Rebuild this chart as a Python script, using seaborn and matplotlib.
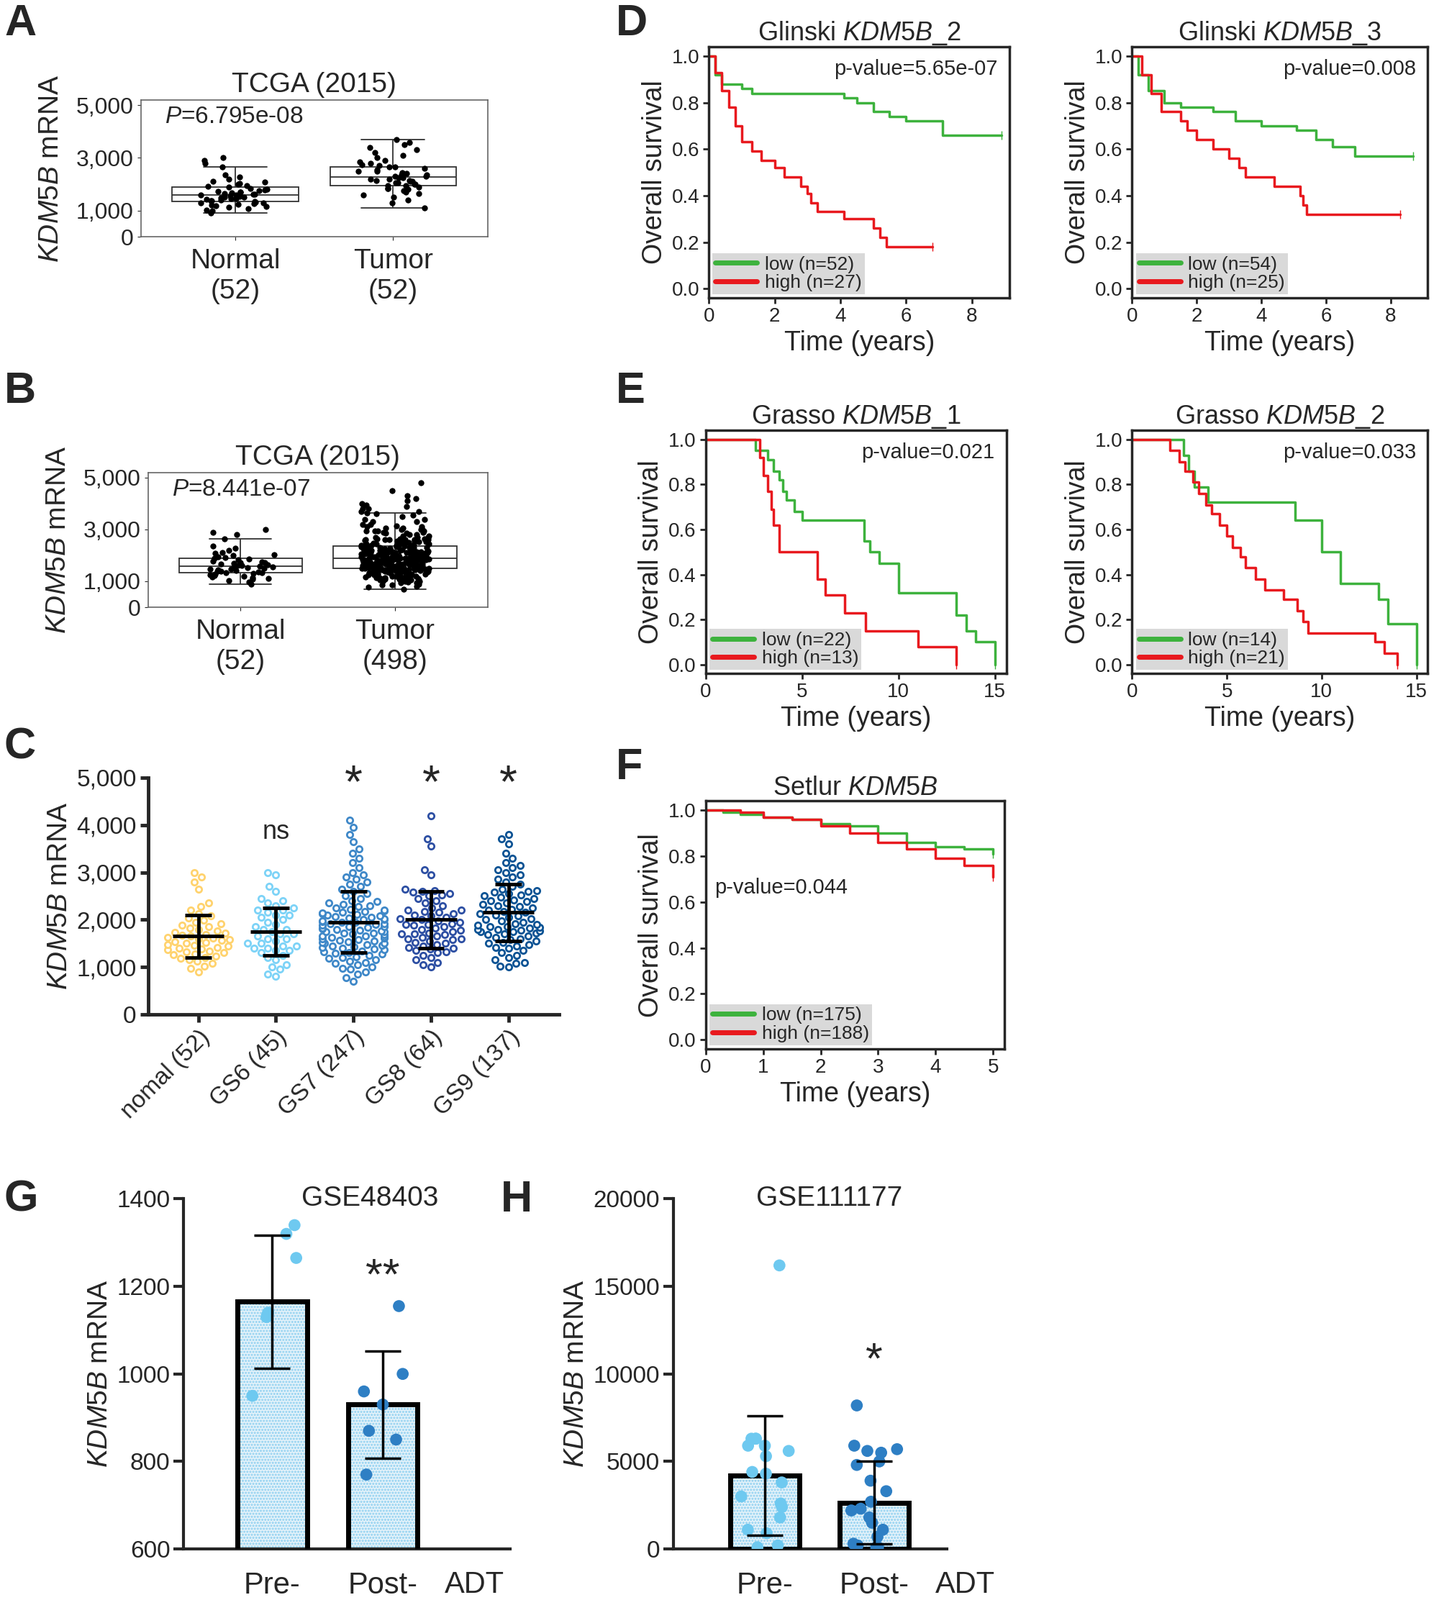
import numpy as np
import pandas as pd
import matplotlib
matplotlib.use('Agg')
import matplotlib.pyplot as plt
from matplotlib.lines import Line2D
from matplotlib.patches import Rectangle
import seaborn as sns

sns.set_style('ticks')
plt.rcParams['font.family'] = ['Liberation Sans', 'DejaVu Sans']
plt.rcParams['mathtext.fontset'] = 'custom'
plt.rcParams['mathtext.it'] = 'Liberation Sans:italic'
plt.rcParams['mathtext.rm'] = 'Liberation Sans'
plt.rcParams['hatch.linewidth'] = 1.5

# ---- data ----
normal = [900,980,1020,1080,1120,1150,1180,1200,1230,1260,1280,1300,1320,1340,1360,1380,1400,1420,1440,1460,
          1480,1500,1520,1540,1560,1580,1600,1610,1630,1650,1670,1690,1710,1730,1760,1790,1820,1850,1880,1910,
          1950,1990,2030,2080,2120,2200,2280,2350,2650,2800,2900,3000]
tumor_a = [1100,1300,1400,1500,1600,1650,1700,1750,1800,1850,1900,1950,2000,2000,2050,2100,2100,2150,2200,2200,
           2250,2300,2300,2350,2400,2400,2450,2500,2500,2550,2600,2650,2700,2750,2800,2850,2900,3000,3100,3200,
           3300,3400,3500,3600,3700,1950,2150,2250,2350,2050,1850,2650]
gs6 = [800,850,950,1000,1050,1150,1200,1250,1300,1350,1350,1400,1400,1450,1450,1500,1500,1550,1600,1600,1650,
       1700,1700,1750,1800,1800,1850,1900,1950,2000,2050,2100,2100,2150,2200,2200,2250,2300,2350,2400,2450,2600,
       2700,2950,3000]
gs7 = [700,780,850,900,950,980,1000,1050,1080,1100,1120,1150,1180,1200,1220,1250,1270,1290,1300,1320,1340,1360,
       1380,1400,1410,1430,1450,1460,1480,1500,1510,1520,1540,1550,1560,1580,1600,1610,1620,1640,1650,1660,1680,
       1700,1710,1720,1740,1750,1760,1780,1800,1810,1820,1840,1850,1860,1880,1900,1910,1920,1940,1950,1960,1980,
       2000,2010,2020,2040,2050,2060,2080,2100,2110,2120,2140,2150,2170,2190,2200,2220,2250,2280,2300,2320,2350,
       2380,2400,2450,2500,2550,2600,2650,2700,2750,2800,2850,2900,2950,3000,3100,3200,3300,3400,3500,3650,3800,
       3950,4100]
gs8 = [1000,1050,1100,1150,1200,1250,1300,1320,1350,1380,1400,1420,1450,1480,1500,1520,1550,1580,1600,1620,1650,
       1680,1700,1720,1750,1780,1800,1820,1850,1880,1900,1920,1950,1980,2000,2020,2050,2080,2100,2120,2150,2180,
       2200,2250,2300,2350,2400,2450,2500,2520,2550,2580,2600,2620,2650,2950,3050,3550,3700,4200,1700,1900,2200,1600]
gs9 = [1000,1020,1080,1100,1150,1200,1250,1300,1350,1400,1420,1450,1480,1500,1520,1550,1580,1600,1620,1650,1680,
       1700,1720,1740,1750,1760,1780,1800,1800,1820,1840,1850,1860,1880,1900,1920,1950,1980,2000,2020,2050,2080,
       2100,2120,2150,2180,2200,2220,2250,2280,2300,2320,2350,2380,2400,2420,2450,2480,2500,2520,2550,2580,2600,
       2620,2650,2700,2750,2800,2850,2900,2950,3000,3050,3100,3150,3200,3300,3400,3600,3700,3800]
tumor_b_extra = [4300,4500,4800,3900,4000]
c_labels = ['nomal (52)', 'GS6 (45)', 'GS7 (247)', 'GS8 (64)', 'GS9 (137)']
c_mean = [1650, 1750, 1950, 2000, 2150]
c_sd = [450, 500, 650, 600, 600]
c_colors = ['#FFD36E', '#7DD3F7', '#3F88C8', '#2D4FA3', '#0B5394']
c_marks = ['', 'ns', '*', '*', '*']

# survival curves (time in years, survival fraction)
d1_low_t = [0,0.2,0.4,1.0,1.3,4.1,4.5,5.0,5.5,6.0,7.1,8.9]
d1_low_s = [1,0.92,0.88,0.86,0.84,0.82,0.80,0.76,0.74,0.72,0.66,0.66]
d1_high_t = [0,0.2,0.4,0.6,0.8,1.0,1.3,1.6,2.0,2.3,2.8,3.0,3.1,3.3,4.1,5.0,5.2,5.4,6.8]
d1_high_s = [1,0.93,0.85,0.78,0.70,0.63,0.59,0.55,0.52,0.48,0.44,0.41,0.37,0.33,0.30,0.26,0.22,0.18,0.18]
d2_low_t = [0,0.2,0.5,1.0,1.5,2.5,3.2,4.0,5.1,5.7,6.2,6.9,8.7]
d2_low_s = [1,0.92,0.85,0.80,0.78,0.76,0.72,0.70,0.68,0.64,0.61,0.57,0.57]
d2_high_t = [0,0.3,0.6,0.9,1.5,1.7,2.0,2.5,3.0,3.3,3.5,4.4,5.2,5.3,5.4,8.3]
d2_high_s = [1,0.92,0.84,0.76,0.72,0.68,0.64,0.60,0.56,0.52,0.48,0.44,0.40,0.36,0.32,0.32]
e1_low_t = [0,2.6,3.2,3.5,3.8,4.0,4.2,4.6,5.0,8.2,8.5,9.0,10.0,13.0,13.5,14.0,15.0]
e1_low_s = [1,0.95,0.91,0.86,0.82,0.77,0.73,0.68,0.64,0.55,0.50,0.45,0.32,0.22,0.15,0.10,0.0]
e1_high_t = [0,2.8,3.0,3.2,3.4,3.5,3.8,5.8,6.2,7.2,8.3,11.0,13.0]
e1_high_s = [1,0.92,0.84,0.77,0.69,0.62,0.50,0.38,0.31,0.23,0.15,0.08,0.0]
e2_low_t = [0,2.7,3.0,3.3,4.0,8.6,10.0,11.0,13.0,13.5,15.0]
e2_low_s = [1,0.93,0.86,0.79,0.72,0.64,0.50,0.36,0.29,0.18,0.0]
e2_high_t = [0,2.0,2.5,2.8,3.2,3.5,3.9,4.2,4.6,5.0,5.3,5.7,6.0,6.5,7.0,8.0,8.7,9.0,9.3,12.8,13.3,14.0]
e2_high_s = [1,0.95,0.90,0.86,0.81,0.76,0.71,0.67,0.62,0.57,0.52,0.48,0.43,0.38,0.33,0.29,0.24,0.19,0.14,0.10,0.05,0.0]
f_low_t = [0,0.3,0.6,1.0,1.5,2.0,2.5,3.0,3.5,4.0,4.5,5.0]
f_low_s = [1,0.99,0.98,0.97,0.96,0.94,0.93,0.90,0.86,0.84,0.83,0.81]
f_high_t = [0,0.3,0.6,1.0,1.5,2.0,2.5,3.0,3.5,4.0,4.5,5.0]
f_high_s = [1,1.0,0.99,0.97,0.96,0.93,0.90,0.86,0.83,0.79,0.76,0.71]

g_pre = [1340,1320,1265,1140,1130,1135,950]
g_post = [1155,1000,960,930,870,850,770]
g_mean = [1165, 930]
g_sd = [152, 122]
h_pre = [16200,6300,6300,6300,5900,5900,5600,5300,4400,4300,3800,3000,2600,2400,1800,1100,900,200,100]
h_post = [8200,5900,5700,5600,5500,5000,4800,3900,3300,2700,2300,2200,1800,1500,1100,700,300,200,100,100]
h_mean = [4200, 2650]
h_sd = [3400, 2350]

fig = plt.figure(figsize=(20, 22.24), dpi=100)
ylab = r'$\it{KDM5B}$ mRNA'


def box_panel(rect, groups, labels, pval):
    ax = fig.add_axes(rect)
    df = pd.DataFrame({'g': sum([[l] * len(v) for l, v in zip(labels, groups)], []),
                       'v': sum(groups, [])})
    sns.boxplot(data=df, x='g', y='v', ax=ax, width=0.8, showfliers=False, color='white',
                linecolor='#333333', linewidth=1.3)
    sns.stripplot(data=df, x='g', y='v', ax=ax, color='black', size=6, jitter=0.22)
    ax.set_xlim(-0.6, 1.6)
    ax.set_ylim(0, 5200)
    ax.set_yticks([0, 1000, 3000, 5000])
    ax.set_yticklabels(['0', '1,000', '3,000', '5,000'], fontsize=23)
    ax.set_xticklabels(labels, fontsize=28)
    ax.tick_params(axis='x', pad=8)
    for s in ax.spines.values():
        s.set_color('#666666')
        s.set_linewidth(1.2)
    ax.set_xlabel('')
    ax.set_ylabel(ylab, fontsize=28, labelpad=12)
    ax.set_title('TCGA (2015)', fontsize=28, pad=8)
    ax.text(0.07, 0.83, r'$\it{P}$=' + pval, transform=ax.transAxes, fontsize=24)
    return ax


box_panel([0.0978, 0.852, 0.241, 0.0855], [normal, tumor_a], ['Normal\n(52)', 'Tumor\n(52)'], '6.795e-08')
box_panel([0.1028, 0.6205, 0.236, 0.0842], [normal, gs6 + gs7 + gs8 + gs9 + tumor_b_extra],
          ['Normal\n(52)', 'Tumor\n(498)'], '8.441e-07')

# ---- C ----
ax = fig.add_axes([0.1028, 0.366, 0.2856, 0.148])
groups_c = [normal, gs6, gs7, gs8, gs9]
dfc = pd.DataFrame({'g': sum([[l] * len(v) for l, v in zip(c_labels, groups_c)], []),
                    'v': sum(groups_c, [])})
sns.swarmplot(data=dfc, x='g', y='v', hue='g', palette=c_colors, ax=ax, size=6,
              marker='o', linewidth=2, legend=False)
for coll, col in zip(ax.collections, c_colors):
    coll.set_facecolor('white')
    coll.set_edgecolor(col)
xs = np.arange(5)
ax.vlines(xs, np.array(c_mean) - c_sd, np.array(c_mean) + c_sd, color='black', lw=3.5, zorder=5)
ax.hlines(c_mean, xs - 0.33, xs + 0.33, color='black', lw=3.5, zorder=5)
ax.hlines(np.array(c_mean) - c_sd, xs - 0.17, xs + 0.17, color='black', lw=3.5, zorder=5)
ax.hlines(np.array(c_mean) + c_sd, xs - 0.17, xs + 0.17, color='black', lw=3.5, zorder=5)
for i, m in enumerate(c_marks):
    if m == '*':
        ax.text(i, 4850, '*', ha='center', va='center', fontsize=46)
    elif m:
        ax.text(i, 3850, m, ha='center', va='center', fontsize=26)
ax.set_ylim(0, 5000)
ax.set_xlim(-0.65, 4.65)
ax.set_yticks([0, 1000, 2000, 3000, 4000, 5000])
ax.set_yticklabels(['0', '1,000', '2,000', '3,000', '4,000', '5,000'], fontsize=24)
ax.set_xticks(range(5))
ax.set_xticklabels(c_labels, rotation=45, ha='right', rotation_mode='anchor', fontsize=24)
ax.set_xlabel('')
ax.set_ylabel(ylab, fontsize=28)
sns.despine(ax=ax)
for s in ['left', 'bottom']:
    ax.spines[s].set_linewidth(3.5)
ax.tick_params(width=3.5, length=8)


# ---- survival panels ----
def surv_panel(rect, title, low, high, nlow, nhigh, pval, xlim, xticks, ptxt_pos):
    ax = fig.add_axes(rect)
    ax.step(low[0], low[1], where='post', color='#3DB23D', lw=2.5)
    ax.step(high[0], high[1], where='post', color='#E8191E', lw=2.5)
    ax.plot(low[0][-1], low[1][-1], marker='|', color='#3DB23D', ms=8)
    ax.plot(high[0][-1], high[1][-1], marker='|', color='#E8191E', ms=8)
    ax.set_xlim(*xlim)
    ax.set_ylim(-0.04, 1.04)
    ax.set_xticks(xticks)
    ax.set_yticks(np.arange(0, 1.01, 0.2))
    ax.set_yticklabels(['0.0', '0.2', '0.4', '0.6', '0.8', '1.0'])
    ax.tick_params(labelsize=20, width=2, length=6)
    for s in ax.spines.values():
        s.set_linewidth(2.5)
    ax.set_xlabel('Time (years)', fontsize=27)
    ax.set_ylabel('Overall survival', fontsize=27)
    ax.set_title(title, fontsize=26, pad=6)
    ax.text(ptxt_pos[0], ptxt_pos[1], 'p-value=' + pval, transform=ax.transAxes, fontsize=21,
            ha=ptxt_pos[2], va='top')
    handles = [Line2D([], [], color='#3DB23D', lw=5), Line2D([], [], color='#E8191E', lw=5)]
    ax.legend(handles, ['low (n=%d)' % nlow, 'high (n=%d)' % nhigh], loc='lower left',
              fontsize=19, frameon=True, facecolor='#d9d9d9', edgecolor='none', framealpha=1,
              borderpad=0.15, labelspacing=0.05, handlelength=2.2, handletextpad=0.4,
              borderaxespad=0.2, fancybox=False)
    return ax


surv_panel([0.4926, 0.8138, 0.209, 0.157], r'Glinski $\it{KDM5B}$_2', (d1_low_t, d1_low_s),
           (d1_high_t, d1_high_s), 52, 27, '5.65e-07', (0, 9.15), [0, 2, 4, 6, 8], (0.96, 0.95, 'right'))
surv_panel([0.7867, 0.8138, 0.2055, 0.157], r'Glinski $\it{KDM5B}$_3', (d2_low_t, d2_low_s),
           (d2_high_t, d2_high_s), 54, 25, '0.008', (0, 9.15), [0, 2, 4, 6, 8], (0.96, 0.95, 'right'))
surv_panel([0.4904, 0.579, 0.209, 0.152], r'Grasso $\it{KDM5B}$_1', (e1_low_t, e1_low_s),
           (e1_high_t, e1_high_s), 22, 13, '0.021', (0, 15.6), [0, 5, 10, 15], (0.96, 0.95, 'right'))
surv_panel([0.7867, 0.579, 0.2055, 0.152], r'Grasso $\it{KDM5B}$_2', (e2_low_t, e2_low_s),
           (e2_high_t, e2_high_s), 14, 21, '0.033', (0, 15.6), [0, 5, 10, 15], (0.96, 0.95, 'right'))
surv_panel([0.4904, 0.3444, 0.2077, 0.155], r'Setlur $\it{KDM5B}$', (f_low_t, f_low_s),
           (f_high_t, f_high_s), 175, 188, '0.044', (0, 5.2), [0, 1, 2, 3, 4, 5], (0.03, 0.69, 'left'))


# ---- G / H bar panels ----
def bar_panel(rect, pre, post, means, sds, ylim, yticks, title, star, star_y, xlim):
    ax = fig.add_axes(rect)
    dfb = pd.DataFrame({'g': ['Pre-', 'Post-'], 'v': means})
    sns.barplot(data=dfb, x='g', y='v', ax=ax, color='#e3f4fd', edgecolor='#8ccff0', linewidth=0,
                width=0.63, errorbar=None)
    for p in list(ax.patches):
        p.set_hatch('....')
        ax.add_patch(Rectangle(p.get_xy(), p.get_width(), p.get_height(), fill=False,
                               edgecolor='black', linewidth=5, zorder=3))
    ax.errorbar([0, 1], means, yerr=sds, fmt='none', ecolor='black', elinewidth=2.5, capsize=18, capthick=2.5,
                zorder=5)
    dfp = pd.DataFrame({'g': ['Pre-'] * len(pre) + ['Post-'] * len(post), 'v': pre + post})
    sns.stripplot(data=dfp, x='g', y='v', hue='g', palette=['#6EC9F0', '#2E7FC4'], ax=ax, size=12,
                  jitter=0.22, legend=False, zorder=4)
    ax.set_ylim(*ylim)
    ax.set_xlim(*xlim)
    ax.set_yticks(yticks)
    ax.tick_params(axis='y', labelsize=24, width=3, length=10)
    ax.tick_params(axis='x', labelsize=30, length=0, pad=22)
    ax.set_xlabel('')
    ax.set_ylabel(ylab, fontsize=28)
    sns.despine(ax=ax)
    for s in ['left', 'bottom']:
        ax.spines[s].set_linewidth(3)
    ax.text(1.83, ylim[0] - (ylim[1] - ylim[0]) * 0.062, 'ADT', fontsize=30, ha='center', va='top',
            transform=ax.transData)
    ax.text(0.57, 1.0, title, transform=ax.transAxes, fontsize=28, ha='center', va='center')
    ax.text(1, star_y, star, ha='center', va='center', fontsize=44)
    return ax


bar_panel([0.1276, 0.0319, 0.2268, 0.2188], g_pre, g_post, g_mean, g_sd, (600, 1400),
          [600, 800, 1000, 1200, 1400], 'GSE48403', '**', 1220, (-0.8, 2.15))
bar_panel([0.4678, 0.0319, 0.19, 0.2188], h_pre, h_post, h_mean, h_sd, (0, 20000),
          [0, 5000, 10000, 15000, 20000], 'GSE111177', '*', 10700, (-0.84, 1.66))

# panel letters
for lab, x, y in [('A', 0.003, 0.985), ('B', 0.003, 0.755), ('C', 0.003, 0.533), ('D', 0.428, 0.985),
                  ('E', 0.428, 0.755), ('F', 0.428, 0.52), ('G', 0.003, 0.25), ('H', 0.348, 0.25)]:
    fig.text(x, y, lab, fontsize=44, fontweight='bold', va='center', ha='left')

fig.savefig('out.png', dpi=100)
